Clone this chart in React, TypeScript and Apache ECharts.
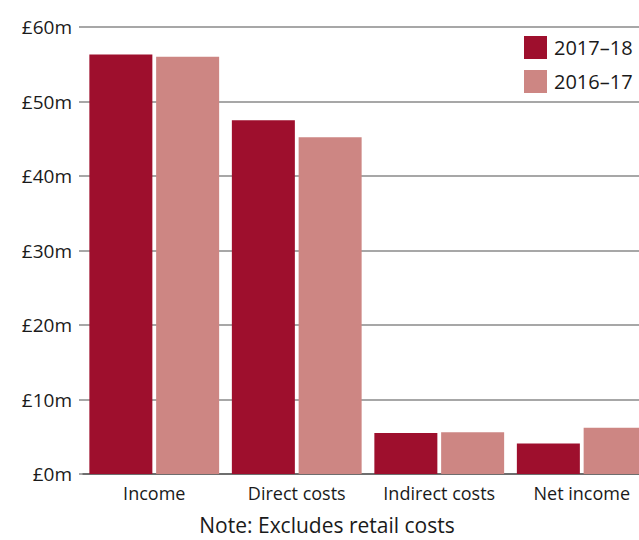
import React, { useEffect, useRef } from "react";
import * as echarts from "echarts";

const categories = ["Income", "Direct costs", "Indirect costs", "Net income"];
const series2017_18 = [56.3, 47.5, 5.5, 4.1];
const series2016_17 = [56.0, 45.2, 5.6, 6.2];
const seriesNames = ["2017–18", "2016–17"];
const yTicks = { min: 0, max: 60, interval: 10 };
const note = "Note: Excludes retail costs";

export default function App() {
  const ref = useRef<HTMLDivElement>(null);
  useEffect(() => {
    if (!ref.current) return;
    const chart = echarts.init(ref.current, null, { renderer: "svg" });
    const font = "Open Sans";
    chart.setOption({
      animation: false,
      backgroundColor: "#ffffff",
      grid: { left: 83, top: 27, width: 570, height: 447, containLabel: false },
      legend: {
        orient: "vertical",
        left: 524,
        top: 36,
        padding: 0,
        itemWidth: 23,
        itemHeight: 23,
        itemGap: 11,
        icon: "rect",
        textStyle: { fontFamily: font, fontSize: 20, color: "#1a1a1a", padding: [0, 0, 0, 2] },
        data: seriesNames,
      },
      xAxis: {
        type: "category",
        data: categories,
        axisLine: { show: true, lineStyle: { color: "#6e6e6e", width: 2 } },
        axisTick: { show: false },
        axisLabel: { fontFamily: font, fontSize: 18, color: "#1a1a1a", margin: 10, interval: 0 },
      },
      yAxis: {
        type: "value",
        min: yTicks.min,
        max: yTicks.max,
        interval: yTicks.interval,
        axisLine: { show: false },
        axisTick: { show: true, length: 4, lineStyle: { color: "#8a8a8a", width: 1.5 } },
        axisLabel: {
          fontFamily: font,
          fontSize: 19,
          color: "#1a1a1a",
          margin: 11,
          formatter: (v: number) => `£${v}m`,
        },
        splitLine: { show: true, lineStyle: { color: "#8a8a8a", width: 1.5 } },
      },
      series: [
        {
          name: seriesNames[0],
          type: "bar",
          data: series2017_18,
          barWidth: 63,
          barGap: "6%",
          itemStyle: { color: "#9e0f2d" },
        },
        {
          name: seriesNames[1],
          type: "bar",
          data: series2016_17,
          barWidth: 63,
          barGap: "6%",
          itemStyle: { color: "#cd8683" },
        },
      ],
      graphic: [
        {
          type: "text",
          x: 327,
          y: 525,
          style: {
            text: note,
            fontFamily: font,
            fontSize: 21,
            fill: "#1a1a1a",
            textAlign: "center",
            textVerticalAlign: "middle",
          },
        },
      ],
    });
    return () => chart.dispose();
  }, []);
  return (
    <div
      ref={ref}
      style={{ position: "fixed", left: 0, top: 0, width: 660, height: 540 }}
    />
  );
}
